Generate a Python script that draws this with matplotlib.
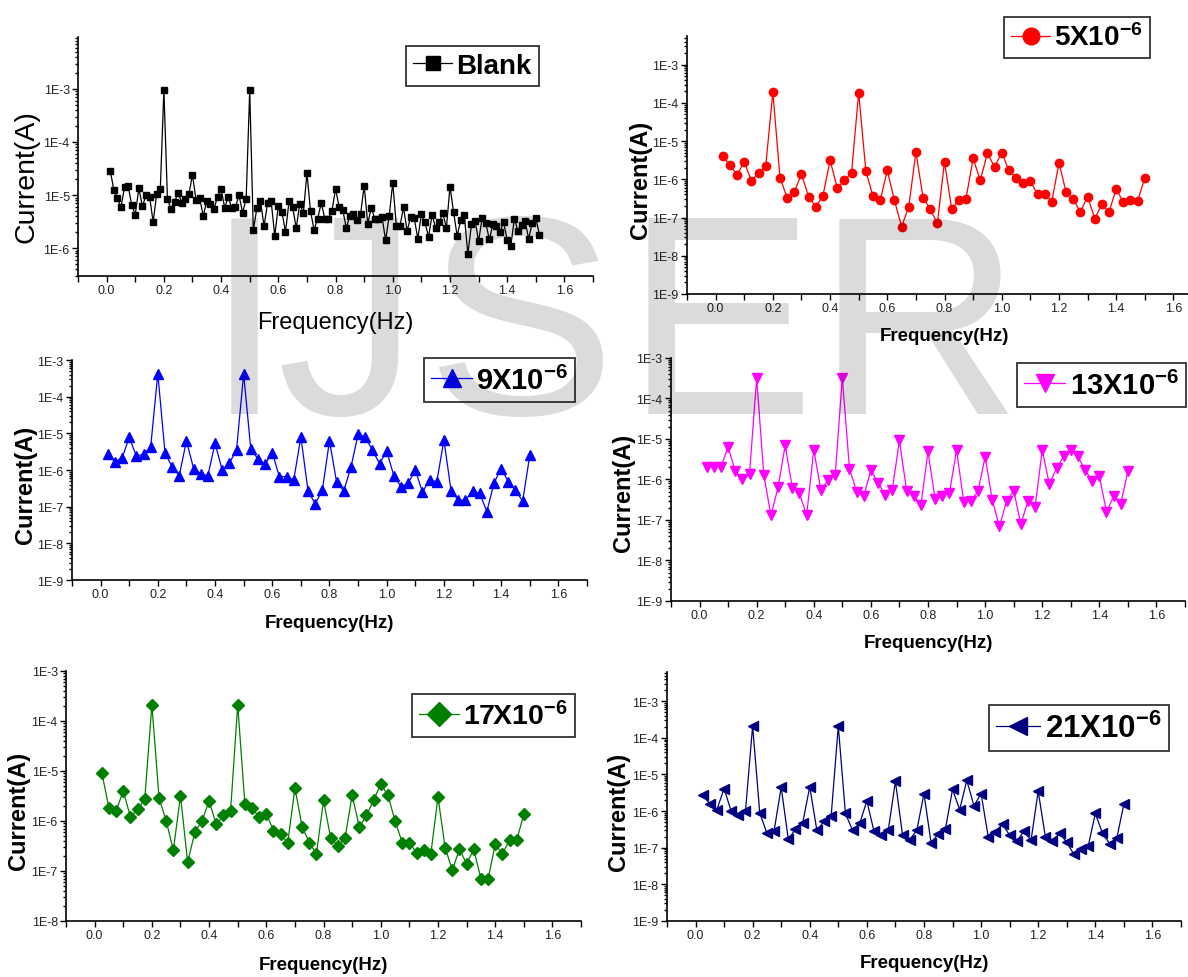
import numpy as np
import matplotlib
matplotlib.use("Agg")
import matplotlib.pyplot as plt
from matplotlib.ticker import LogLocator, MultipleLocator, FuncFormatter, NullFormatter, FormatStrFormatter

plt.rcParams['font.family'] = ['Liberation Sans', 'DejaVu Sans']
plt.rcParams['mathtext.fontset'] = 'custom'
plt.rcParams['mathtext.rm'] = 'Liberation Sans:bold'
plt.rcParams['mathtext.it'] = 'Liberation Sans:bold'
plt.rcParams['mathtext.bf'] = 'Liberation Sans:bold'

# frequency grids (Hz)
freq_blank = np.arange(1, 122) * 0.0125
freq = np.arange(1, 61) * 0.025

# current (A)
blank = [2.9e-5, 1.26e-5, 8.7e-6, 5.9e-6, 1.4e-5, 1.5e-5, 6.5e-6, 4.3e-6, 1.34e-5, 6.1e-6,
         1.0e-5, 9.4e-6, 3.1e-6, 1.06e-5, 1.28e-5, 9.5e-4, 8.3e-6, 5.5e-6, 7.5e-6, 1.1e-5,
         7.2e-6, 8.5e-6, 1.06e-5, 2.4e-5, 8.0e-6, 8.7e-6, 4.1e-6, 7.7e-6, 6.8e-6, 5.4e-6,
         9.4e-6, 1.3e-5, 5.8e-6, 9.2e-6, 5.6e-6, 5.9e-6, 1.0e-5, 4.7e-6, 8.3e-6, 9.5e-4,
         2.2e-6, 5.6e-6, 7.9e-6, 2.6e-6, 7.1e-6, 7.6e-6, 1.7e-6, 6.3e-6, 4.9e-6, 2.0e-6,
         7.7e-6, 6.0e-6, 2.4e-6, 6.9e-6, 4.6e-6, 2.6e-5, 5.0e-6, 2.2e-6, 3.6e-6, 7.1e-6,
         3.6e-6, 3.6e-6, 5.1e-6, 1.3e-5, 6.0e-6, 5.3e-6, 2.4e-6, 4.1e-6, 4.5e-6, 3.4e-6,
         4.4e-6, 1.5e-5, 2.9e-6, 5.8e-6, 3.5e-6, 3.5e-6, 3.9e-6, 1.4e-6, 4.1e-6, 1.7e-5,
         2.6e-6, 2.6e-6, 5.9e-6, 2.1e-6, 3.9e-6, 3.7e-6, 1.5e-6, 4.4e-6, 3.05e-6, 1.64e-6,
         4.2e-6, 2.4e-6, 3.05e-6, 4.6e-6, 2.4e-6, 1.45e-5, 4.8e-6, 1.7e-6, 3.4e-6, 4.2e-6,
         7.7e-7, 2.8e-6, 3.3e-6, 1.36e-6, 3.7e-6, 3.0e-6, 1.46e-6, 2.8e-6, 2.6e-6, 2.0e-6,
         3.1e-6, 1.4e-6, 1.1e-6, 3.6e-6, 2.1e-6, 2.7e-6, 3.2e-6, 1.5e-6, 3.0e-6, 3.7e-6,
         1.8e-6]

c5 = [4.1e-6, 2.3e-6, 1.3e-6, 2.9e-6, 9.0e-7, 1.5e-6, 2.2e-6, 1.9e-4, 1.1e-6, 3.3e-7,
      4.7e-7, 1.35e-6, 3.5e-7, 1.9e-7, 3.7e-7, 3.1e-6, 6.0e-7, 9.4e-7, 1.46e-6, 1.85e-4,
      1.65e-6, 3.6e-7, 2.8e-7, 1.7e-6, 2.8e-7, 5.8e-8, 1.9e-7, 5.2e-6, 3.3e-7, 1.65e-7,
      7.0e-8, 2.9e-6, 1.65e-7, 2.8e-7, 3.1e-7, 3.5e-6, 9.4e-7, 4.8e-6, 2.1e-6, 5.0e-6,
      1.7e-6, 1.1e-6, 7.9e-7, 8.8e-7, 4.1e-7, 4.1e-7, 2.6e-7, 2.7e-6, 4.6e-7, 3.0e-7,
      1.4e-7, 3.5e-7, 9.4e-8, 2.2e-7, 1.4e-7, 5.6e-7, 2.5e-7, 2.8e-7, 2.7e-7, 1.1e-6]

c9 = [2.7e-6, 1.7e-6, 2.1e-6, 7.8e-6, 2.4e-6, 2.7e-6, 4.3e-6, 4.3e-4, 3.0e-6, 1.2e-6,
      7.1e-7, 6.3e-6, 1.1e-6, 7.8e-7, 7.1e-7, 5.4e-6, 1.0e-6, 1.55e-6, 3.5e-6, 4.2e-4,
      3.7e-6, 2.0e-6, 1.45e-6, 3.0e-6, 6.6e-7, 6.6e-7, 5.3e-7, 8.1e-6, 2.7e-7, 1.2e-7,
      2.8e-7, 6.3e-6, 4.6e-7, 2.7e-7, 1.2e-6, 9.5e-6, 7.9e-6, 3.5e-6, 1.5e-6, 3.3e-6,
      6.9e-7, 3.5e-7, 4.4e-7, 1.0e-6, 2.5e-7, 5.4e-7, 4.8e-7, 6.6e-6, 2.7e-7, 1.5e-7,
      1.5e-7, 2.7e-7, 2.3e-7, 7.4e-8, 4.4e-7, 1.1e-6, 4.8e-7, 2.9e-7, 1.4e-7, 2.5e-6]

c13 = [2.0e-6, 2.07e-6, 2.07e-6, 6.3e-6, 1.6e-6, 1.0e-6, 1.36e-6, 3.2e-4, 1.3e-6, 1.3e-7,
       6.4e-7, 7.0e-6, 6.1e-7, 4.5e-7, 1.3e-7, 5.4e-6, 5.4e-7, 9.6e-7, 1.3e-6, 3.2e-4,
       1.85e-6, 5.0e-7, 3.9e-7, 1.7e-6, 8.3e-7, 4.2e-7, 5.6e-7, 9.2e-6, 5.3e-7, 4.0e-7,
       2.3e-7, 4.9e-6, 3.2e-7, 4.0e-7, 4.6e-7, 5.3e-6, 2.8e-7, 2.9e-7, 5.1e-7, 3.6e-6,
       3.1e-7, 6.9e-8, 2.9e-7, 5.3e-7, 8.0e-8, 2.9e-7, 2.1e-7, 5.3e-6, 7.6e-7, 1.9e-6,
       3.7e-6, 5.3e-6, 3.7e-6, 1.7e-6, 9.3e-7, 1.2e-6, 1.6e-7, 3.8e-7, 2.5e-7, 1.6e-6]

c17 = [9.3e-6, 1.8e-6, 1.6e-6, 4.0e-6, 1.2e-6, 1.7e-6, 2.7e-6, 2.1e-4, 2.9e-6, 1.0e-6,
       2.6e-7, 3.2e-6, 1.5e-7, 5.9e-7, 1.0e-6, 2.5e-6, 8.5e-7, 1.3e-6, 1.6e-6, 2.1e-4,
       2.2e-6, 1.8e-6, 1.2e-6, 1.4e-6, 6.4e-7, 5.4e-7, 3.7e-7, 4.6e-6, 7.7e-7, 3.7e-7,
       2.2e-7, 2.6e-6, 4.5e-7, 3.2e-7, 4.5e-7, 3.3e-6, 7.5e-7, 1.3e-6, 2.6e-6, 5.5e-6,
       3.3e-6, 1.0e-6, 3.7e-7, 3.7e-7, 2.3e-7, 2.6e-7, 2.2e-7, 3.0e-6, 2.9e-7, 1.05e-7,
       2.7e-7, 1.4e-7, 2.7e-7, 7.0e-8, 6.9e-8, 3.4e-7, 2.2e-7, 4.1e-7, 4.1e-7, 1.36e-6]

c21 = [2.7e-6, 1.6e-6, 1.1e-6, 4.1e-6, 1.0e-6, 7.9e-7, 1.0e-6, 2.1e-4, 8.9e-7, 2.5e-7,
       2.8e-7, 4.5e-6, 1.7e-7, 3.2e-7, 4.6e-7, 4.6e-6, 3.0e-7, 5.2e-7, 7.3e-7, 2.1e-4,
       8.6e-7, 3.0e-7, 4.6e-7, 1.9e-6, 2.8e-7, 2.2e-7, 3.0e-7, 6.5e-6, 2.2e-7, 1.65e-7,
       3.0e-7, 3.0e-6, 1.35e-7, 2.4e-7, 3.2e-7, 3.9e-6, 1.1e-6, 6.9e-6, 1.4e-6, 3.0e-6,
       2.0e-7, 2.7e-7, 4.4e-7, 2.2e-7, 1.5e-7, 2.8e-7, 1.6e-7, 3.5e-6, 2.0e-7, 1.55e-7,
       2.5e-7, 1.4e-7, 6.6e-8, 9.2e-8, 1.1e-7, 8.6e-7, 2.5e-7, 1.3e-7, 1.8e-7, 1.55e-6]

labels = ['Blank', r'5X10$^{-6}$', r'9X10$^{-6}$', r'13X10$^{-6}$', r'17X10$^{-6}$', r'21X10$^{-6}$']
colors = ['black', '#ff0000', '#0000ff', '#ff00ff', '#008000', '#000080']
markers = ['s', 'o', '^', 'v', 'D', '<']
msizes = [5, 6, 6.5, 6.5, 6, 6.5]

panels = [
    dict(x=freq_blank, y=blank, rect=[0.0657, 0.7168, 0.4335, 0.2444], ylim=(3e-7, 9.5e-3),
         leg=(0.3977, 0.9315), lsize=20, bold=False, xl=(0.5, -0.146), yl=(-0.074, 0.42)),
    dict(x=freq, y=c5, rect=[0.5783, 0.6984, 0.4335, 0.2638], ylim=(1e-9, 5.6e-3),
         leg=(0.9066, 0.9606), lsize=20, bold=True, xl=(0.5, -0.128), yl=(-0.068, 0.446)),
    dict(x=freq, y=c9, rect=[0.0606, 0.4059, 0.4335, 0.2249], ylim=(1e-9, 1e-3),
         leg=(0.4205, 0.6104), lsize=21, bold=True, xl=(0.5, -0.155), yl=(-0.068, 0.436)),
    dict(x=freq, y=c13, rect=[0.5648, 0.3845, 0.4327, 0.2485], ylim=(1e-9, 1e-3),
         leg=(0.9272, 0.6053), lsize=21, bold=True, xl=(0.5, -0.136), yl=(-0.07, 0.449)),
    dict(x=freq, y=c17, rect=[0.0556, 0.0573, 0.4335, 0.2556], ylim=(1e-8, 1e-3),
         leg=(0.4154, 0.2674), lsize=20.5, bold=True, xl=(0.5, -0.14), yl=(-0.07, 0.444)),
    dict(x=freq, y=c21, rect=[0.5614, 0.0573, 0.4327, 0.2546], ylim=(1e-9, 6.3e-3),
         leg=(0.9082, 0.2546), lsize=22.5, bold=True, xl=(0.5, -0.133), yl=(-0.072, 0.442)),
]


def log_label(v, pos):
    return "1E%d" % int(round(np.log10(v)))


fig = plt.figure(figsize=(11.88, 9.78), dpi=100)

for i, p in enumerate(panels):
    ax = fig.add_axes(p['rect'])
    ax.plot(p['x'], p['y'], color=colors[i], marker=markers[i], ms=msizes[i],
            mec=colors[i], mfc=colors[i], lw=0.9, label=labels[i])
    ax.set_yscale('log')
    ax.set_xlim(-0.1, 1.7)
    ax.set_ylim(*p['ylim'])
    for s in ('top', 'right'):
        ax.spines[s].set_visible(False)
    for s in ('left', 'bottom'):
        ax.spines[s].set_linewidth(1.2)
    ax.xaxis.set_major_locator(MultipleLocator(0.2))
    ax.xaxis.set_minor_locator(MultipleLocator(0.1))
    ax.xaxis.set_major_formatter(FormatStrFormatter('%.1f'))
    ax.yaxis.set_major_locator(LogLocator(base=10, numticks=15))
    ax.yaxis.set_minor_locator(LogLocator(base=10, subs=np.arange(2, 10), numticks=15))
    ax.yaxis.set_major_formatter(FuncFormatter(log_label))
    ax.yaxis.set_minor_formatter(NullFormatter())
    ax.tick_params(which='both', direction='out', width=1.0, labelsize=9, pad=2,
                   labelcolor='#222222')
    ax.tick_params(axis='x', which='both', length=4)
    ax.tick_params(axis='y', which='major', length=4)
    ax.tick_params(axis='y', which='minor', length=2)

    if p['bold']:
        ax.set_xlabel('Frequency(Hz)', fontsize=13.5, fontweight='bold')
        ax.set_ylabel('Current(A)', fontsize=17, fontweight='bold')
    else:
        ax.set_xlabel('Frequency(Hz)', fontsize=17)
        ax.set_ylabel('Current(A)', fontsize=20.5)
    ax.xaxis.set_label_coords(*p['xl'])
    ax.yaxis.set_label_coords(*p['yl'])

    leg = ax.legend(loc='center', bbox_to_anchor=p['leg'], bbox_transform=fig.transFigure,
                    prop=dict(weight='bold', size=p['lsize']), fancybox=False,
                    framealpha=1, markerscale=2.0, handlelength=1.4, handletextpad=0.15,
                    borderpad=0.25, borderaxespad=0, numpoints=1)
    leg.get_frame().set_edgecolor('#333333')
    leg.get_frame().set_linewidth(1.3)

# IJSER watermark over the page
for letter, cx in zip(['I', 'J', 'S', 'E', 'R'], [244, 348, 520, 720, 918]):
    fig.text(cx / 1188, 1 - 414 / 978, letter, ha='center', va='baseline',
             fontsize=205, color='black', alpha=0.14, zorder=10)

fig.savefig('out.png', dpi=100)
